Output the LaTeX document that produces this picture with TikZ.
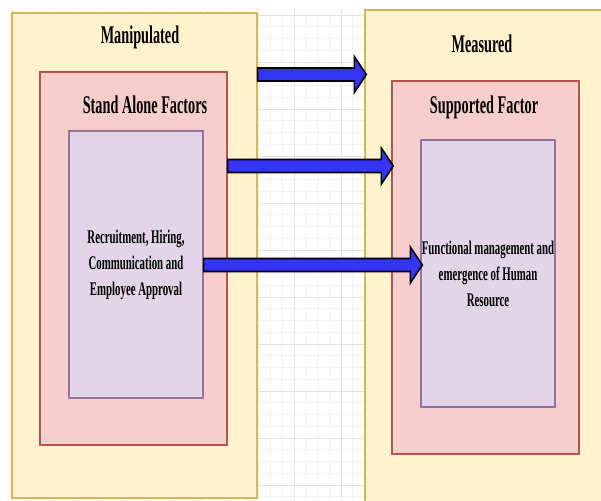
\documentclass[tikz,border=0pt]{standalone}
\usepackage{fontspec}
\setmainfont{Liberation Serif}[FakeStretch=0.56]
\usetikzlibrary{positioning, calc}

\definecolor{outerfill}{HTML}{FFF2CC}
\definecolor{outerdraw}{HTML}{D6B656}
\definecolor{midfill}{HTML}{F8CECC}
\definecolor{middraw}{HTML}{B85450}
\definecolor{innerfill}{HTML}{E1D5E7}
\definecolor{innerdraw}{HTML}{9673A6}
\definecolor{arrowblue}{HTML}{3535F7}

% block arrow from the east side of #1 to the west side of #2, at height #3
\newcommand{\blockarrow}[3]{%
  \draw[bigarrow] ($(#1.east |- 0,#3)+(0,6.5)$) -- ($(#2.west |- 0,#3)+(-10,6.5)$)
    -- ($(#2.west |- 0,#3)+(-10,18)$) -- ($(#2.west |- 0,#3)+(2,0)$)
    -- ($(#2.west |- 0,#3)+(-10,-18)$) -- ($(#2.west |- 0,#3)+(-10,-6.5)$)
    -- ($(#1.east |- 0,#3)+(0,-6.5)$) -- cycle;}

\begin{document}
\begin{tikzpicture}[
    x=0.02cm, y=-0.02cm,
    box/.style={rectangle, line width=0.8pt, inner sep=0pt},
    outerbox/.style={box, fill=outerfill, draw=outerdraw},
    midbox/.style={box, fill=midfill, draw=middraw, minimum width=3.74cm, minimum height=7.46cm},
    innerbox/.style={box, fill=innerfill, draw=innerdraw, minimum width=2.68cm, minimum height=5.34cm,
        align=center, font=\fontsize{11}{14.8}\selectfont\bfseries},
    title/.style={anchor=base, font=\fontsize{14.5}{17}\selectfont\bfseries},
    gridminor/.style={draw=black!5, line width=0.4pt},
    gridmajor/.style={draw=black!11, line width=0.5pt},
    bigarrow/.style={fill=arrowblue, draw=black, line width=0.9pt, line join=miter},
]
\clip (0,0) rectangle (601,500);
\fill[white] (0,0) rectangle (601,500);

% background grid
\foreach \k in {0,...,50} {
  \draw[gridminor] ({12+11.75*\k},10) -- ({12+11.75*\k},500);
}
\foreach \k in {0,...,41} {
  \draw[gridminor] (10,{15+11.75*\k}) -- (601,{15+11.75*\k});
}
\foreach \k in {0,...,12} {
  \draw[gridmajor] ({12+47*\k},10) -- ({12+47*\k},500);
}
\foreach \k in {0,...,10} {
  \draw[gridmajor] (10,{15+47*\k}) -- (601,{15+47*\k});
}

% manipulated side
\node[outerbox, minimum width=4.9cm, minimum height=9.7cm] (mani) at (134.5,255.5) {};
\node[midbox] (stand) at (133.5,258.5) {};
\node[innerbox] (recr) at (136,264.5) {Recruitment, Hiring,\\Communication and\\Employee Approval};
\node[title] (manilbl) at (140,44) {Manipulated};
\node[title] (standlbl) at (145,113) {Stand Alone Factors};

% measured side
\node[outerbox, minimum width=4.94cm, minimum height=10.04cm] (meas) at (488.5,261) {};
\node[midbox] (supp) at (485.5,267.5) {};
\node[innerbox] (func) at (488,273.5) {Functional management and\\emergence of Human\\Resource};
\node[title] (measlbl) at (482,52) {Measured};
\node[title] (supplbl) at (484,113) {Supported Factor};

\blockarrow{mani}{meas}{74.5}
\blockarrow{stand}{supp}{166}
\blockarrow{recr}{func}{265}

\end{tikzpicture}
\end{document}
